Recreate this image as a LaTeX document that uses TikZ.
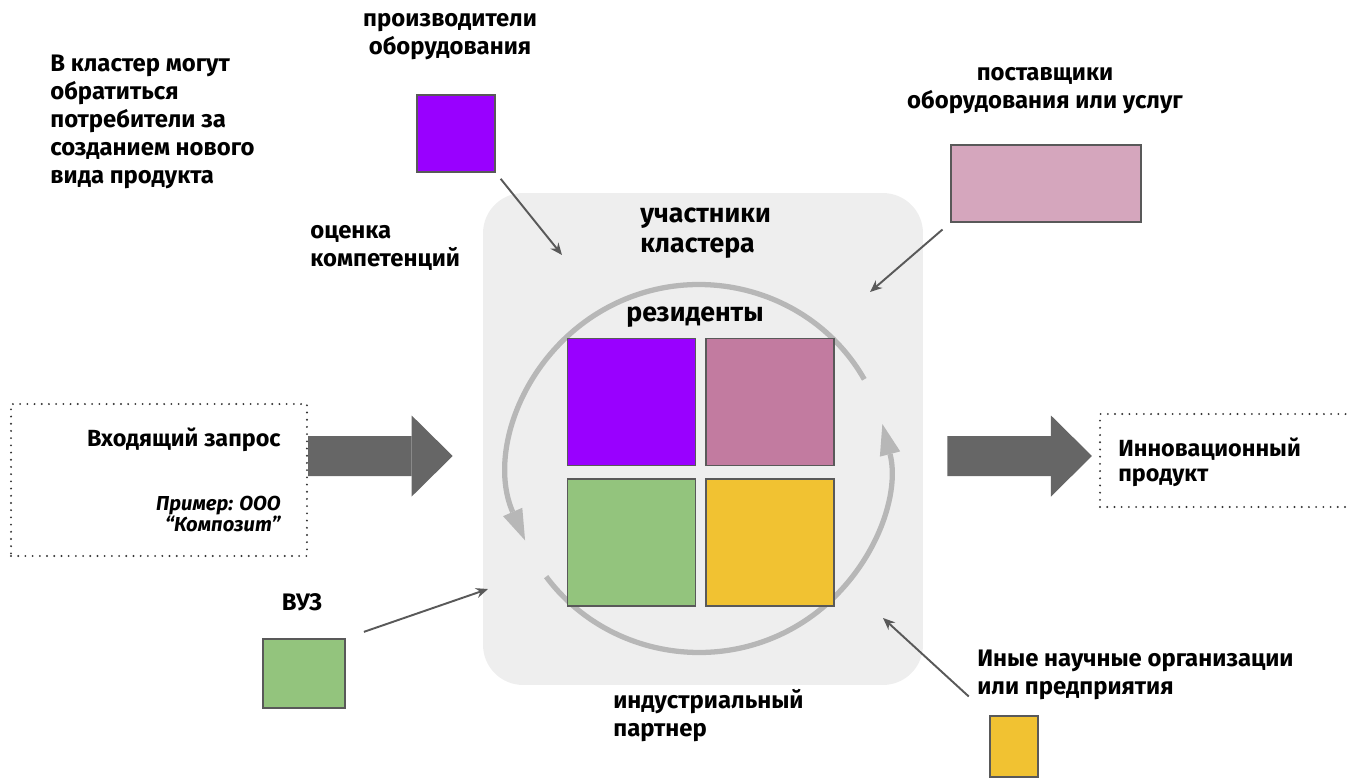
\documentclass[tikz,border=0pt]{standalone}
\usepackage{fontspec}
\setmainfont{Fira Sans}
\usetikzlibrary{arrows.meta, positioning}
\definecolor{clustergray}{HTML}{EEEEEE}
\definecolor{resviolet}{HTML}{9900FF}
\definecolor{resmauve}{HTML}{C27BA0}
\definecolor{supplypink}{HTML}{D5A6BD}
\definecolor{resgreen}{HTML}{93C47D}
\definecolor{resyellow}{HTML}{F1C232}
\definecolor{edgegray}{HTML}{595959}
\definecolor{cyclegray}{HTML}{B7B7B7}
\definecolor{flowgray}{HTML}{666666}

\begin{document}
\begin{tikzpicture}[
    x=0.02cm, y=-0.02cm,
    lbl/.style={font=\fontsize{13.6}{15.9}\selectfont\bfseries, inner sep=0, align=left},
    biglbl/.style={font=\fontsize{15.2}{17}\selectfont\bfseries, inner sep=0, align=left},
    boxlbl/.style={font=\fontsize{13.3}{14.2}\selectfont\bfseries, inner sep=0, align=left},
    cluster/.style={rectangle, fill=clustergray, rounded corners=0.8cm, minimum width=8.8cm, minimum height=9.84cm},
    tile/.style={rectangle, draw=edgegray, line width=1.1pt, minimum width=2.56cm, minimum height=2.54cm, inner sep=0},
    dotbox/.style={rectangle, draw=black!80, line width=1.2pt, dash pattern=on 0pt off 4.1pt, line cap=round},
    feed/.style={-{Stealth[length=0.24cm, width=0.2cm]}, draw=edgegray, line width=1.1pt},
    flow/.style={-{Triangle[length=0.82cm, width=1.62cm, line width=0pt]}, draw=flowgray, line width=0.8cm},
    cyclearrow/.style={-{Triangle[length=0.62cm, width=0.42cm, line width=0pt]}, draw=cyclegray, line width=3pt}
]
    \useasboundingbox (0,0) rectangle (1348,778);

    \node[cluster] (cluster) at (703,439) {};
    \node[biglbl, anchor=west] (members) at (640,233) {участники\\кластера};
    \node[biglbl] (residents) at (695,317) {резиденты};

    \coordinate (ring) at (699,468.5);
    \draw[cyclearrow] ([shift={(29:3.78cm and 3.68cm)}]ring) arc[start angle=29, end angle=203, x radius=3.78cm, y radius=3.68cm];
    \draw[cyclearrow] ([shift={(216:3.78cm and 3.68cm)}]ring) arc[start angle=216, end angle=374, x radius=3.78cm, y radius=3.68cm];

    \node[tile, fill=resviolet] (tileA) at (631.5,402) {};
    \node[tile, fill=resmauve, right=0.18cm of tileA] (tileB) {};
    \node[tile, fill=resgreen, below=0.24cm of tileA] (tileC) {};
    \node[tile, fill=resyellow, right=0.18cm of tileC] (tileD) {};

    \node[lbl, anchor=west] (note) at (50,122) {В кластер могут\\обратиться\\потребители за\\созданием нового\\вида продукта};
    \node[lbl, align=center] (makerslbl) at (450,37) {производители\\оборудования};
    \node[tile, fill=resviolet, minimum width=1.56cm, minimum height=1.54cm] (makers) at (456,133.5) {};
    \node[lbl, anchor=west] (rating) at (310,248) {оценка\\компетенций};
    \node[lbl, align=center] (supplierslbl) at (1045,91) {поставщики\\оборудования или услуг};
    \node[tile, fill=supplypink, minimum width=3.8cm, minimum height=1.54cm] (suppliers) at (1046,183.5) {};
    \node[lbl] (vuzlbl) at (302,602) {ВУЗ};
    \node[tile, fill=resgreen, minimum width=1.64cm, minimum height=1.38cm] (vuz) at (304,673.5) {};
    \node[lbl, anchor=west] (industry) at (613,716) {индустриальный\\партнер};
    \node[lbl, anchor=west] (otherslbl) at (977,675) {Иные научные организации\\или предприятия};
    \node[tile, fill=resyellow, minimum width=0.96cm, minimum height=1.22cm] (others) at (1014,746.5) {};

    \node[dotbox, minimum width=5.92cm, minimum height=3.04cm] (request) at (159,480) {};
    \node[boxlbl, anchor=east] (requestlbl) at (281,440) {Входящий запрос};
    \node[inner sep=0, align=right, anchor=east, font=\fontsize{11.5}{11.9}\selectfont\bfseries\itshape] (example) at (281,514) {Пример: ООО\\“Композит”};
    \node[dotbox, minimum width=5.2cm, minimum height=1.86cm] (product) at (1230,460.5) {};
    \node[boxlbl, anchor=west] (productlbl) at (1118,462) {Инновационный\\продукт};

    \draw[flow] ([yshift=0.48cm]request.east) -- ([xshift=-0.6cm, yshift=-0.34cm]cluster.west);
    \draw[flow] ([xshift=0.48cm, yshift=-0.34cm]cluster.east) -- ([xshift=-0.14cm, yshift=0.09cm]product.west);

    \coordinate (makers-in) at (562,255);
    \coordinate (suppliers-in) at (870,292);
    \coordinate (vuz-in) at (488,589);
    \coordinate (others-in) at (883,618);
    \draw[feed, shorten <=0.15cm] (makers.south east) -- (makers-in);
    \draw[feed, shorten <=0.2cm] (suppliers.south west) -- (suppliers-in);
    \draw[feed, shorten <=0.38cm] (vuz.north east) -- (vuz-in);
    \draw[feed, shorten <=0.55cm] (others.north west) -- (others-in);
\end{tikzpicture}
\end{document}
